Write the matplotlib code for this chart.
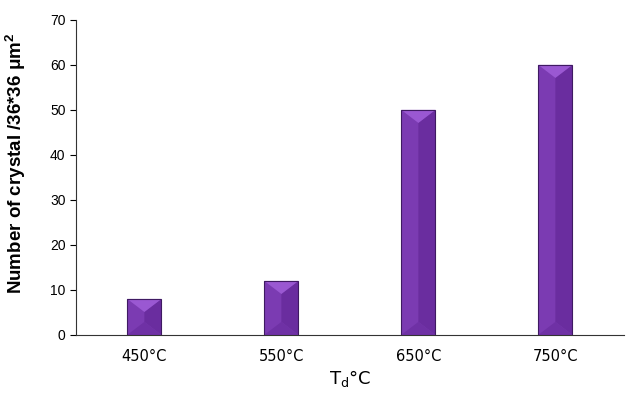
import matplotlib.pyplot as plt
from matplotlib.patches import Polygon, Rectangle

temps = ['450°C', '550°C', '650°C', '750°C']
counts = [8, 12, 50, 60]

plt.rcParams['font.family'] = ['Liberation Sans', 'DejaVu Sans']

fig = plt.figure(figsize=(6.27, 4.05), dpi=100)
ax = fig.add_axes([0.121, 0.173, 0.874, 0.778])

x = list(range(len(temps)))
w = 0.25
bars = ax.bar(x, counts, width=w, color='#7b3bb2', linewidth=0, zorder=2)

# bevel look: darker right half, lighter top triangle, darker bottom triangle
for b in bars:
    x0, x1 = b.get_x(), b.get_x() + b.get_width()
    xm = (x0 + x1) / 2
    h = b.get_height()
    dy = min(2.9, h / 2)
    ax.add_patch(Polygon([(xm, dy), (x1, 0), (x1, h), (xm, h - dy)],
                         closed=True, color='#6a2d9f', lw=0, zorder=3))
    ax.add_patch(Polygon([(x0, h), (x1, h), (xm, h - dy)],
                         closed=True, color='#9a58d2', lw=0, zorder=3))
    ax.add_patch(Polygon([(x0, 0), (x1, 0), (xm, dy)],
                         closed=True, color='#6f31a5', lw=0, zorder=3))
    ax.add_patch(Rectangle((x0, 0), b.get_width(), h, fill=False,
                           edgecolor='#3f1a62', lw=0.8, zorder=4))

ax.set_xlim(-0.5, 3.5)
ax.set_ylim(0, 70)
ax.set_yticks(range(0, 71, 10))
ax.set_xticks(x)
ax.set_xticklabels(temps, fontsize=10.5, family=['DejaVu Sans'])
ax.tick_params(axis='x', length=0, pad=10)
ax.tick_params(axis='y', labelsize=10, length=4, direction='out')
for s in ['top', 'right']:
    ax.spines[s].set_visible(False)
ax.spines['left'].set_color('#333333')
ax.spines['bottom'].set_color('#333333')

ax.set_xlabel('T$_\\mathregular{d}$°C', fontsize=13, family=['DejaVu Sans'])
ax.xaxis.set_label_coords(0.5, -0.105)
ax.set_ylabel('Number of crystal /36*36 μm$^\\mathregular{2}$', fontsize=13.5, fontweight='bold')
ax.yaxis.set_label_coords(-0.088, 0.546)

fig.savefig('out.png', dpi=100)
